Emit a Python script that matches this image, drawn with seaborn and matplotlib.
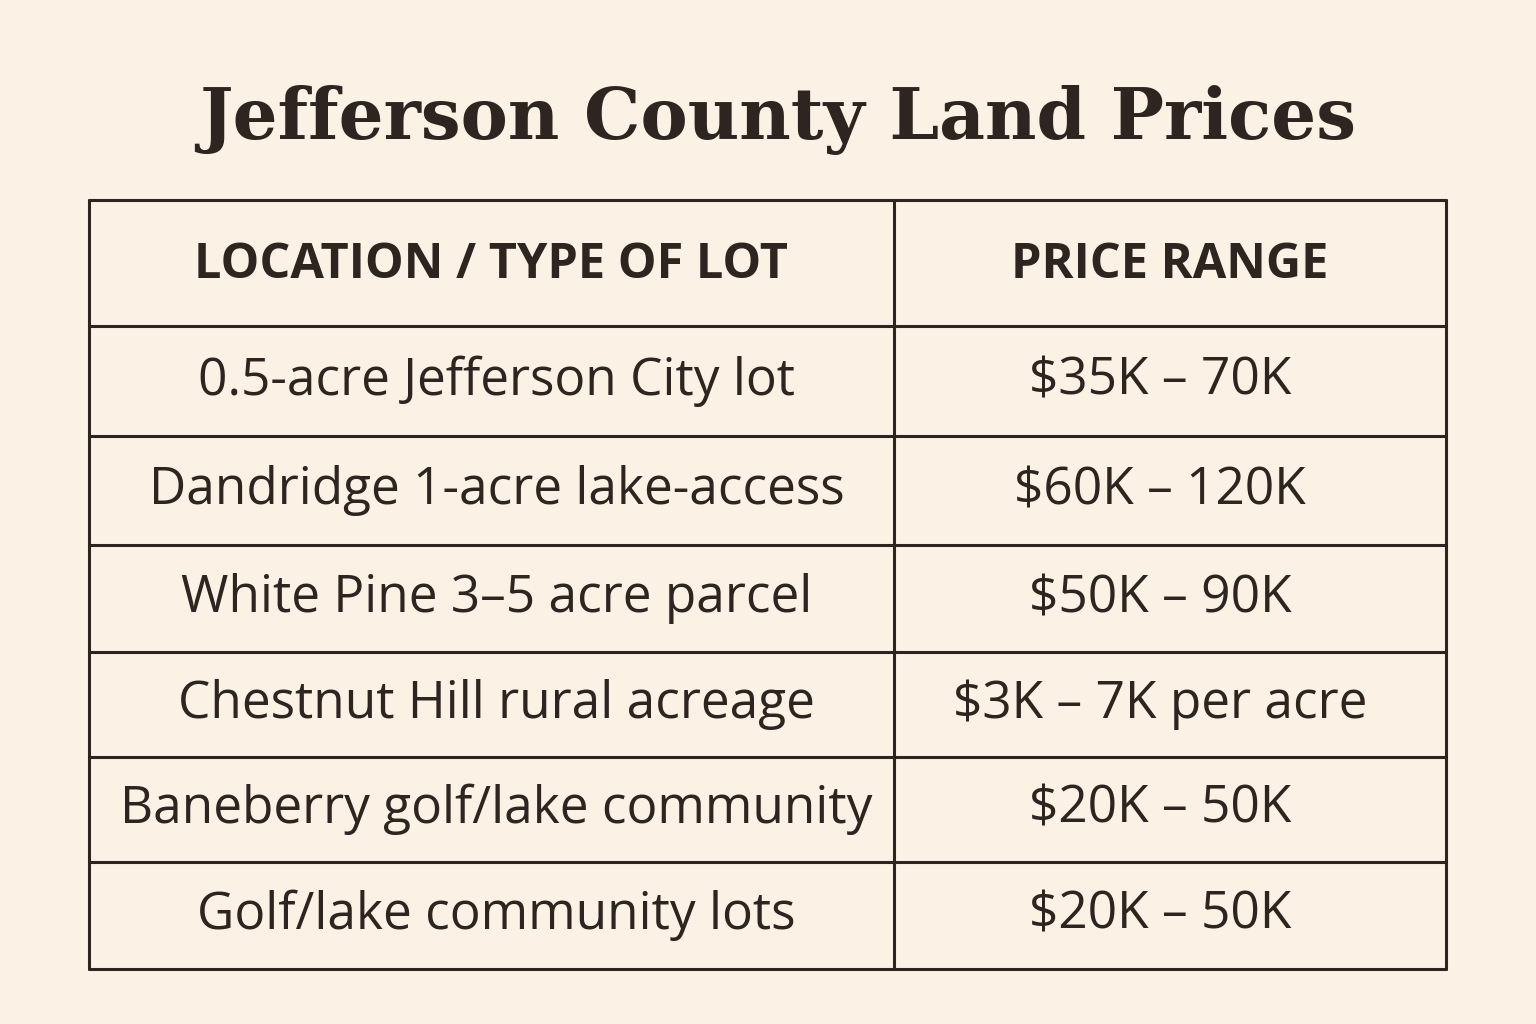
import matplotlib
matplotlib.use("Agg")
import matplotlib.pyplot as plt
import seaborn as sns

title = "Jefferson County Land Prices"
headers = ["LOCATION / TYPE OF LOT", "PRICE RANGE"]
locations = ["0.5-acre Jefferson City lot", "Dandridge 1-acre lake-access",
             "White Pine 3–5 acre parcel", "Chestnut Hill rural acreage",
             "Baneberry golf/lake community", "Golf/lake community lots"]
prices = ["$35K – 70K", "$60K – 120K", "$50K – 90K", "$3K – 7K per acre",
          "$20K – 50K", "$20K – 50K"]

bg = "#FBF1E4"
ink = "#2E2420"
sns.set_theme(style="white", rc={"figure.facecolor": bg, "axes.facecolor": bg})

fig = plt.figure(figsize=(15.36, 10.24), dpi=100)
ax = fig.add_axes([0, 0, 1, 1])
ax.set_xlim(0, 1536); ax.set_ylim(1024, 0); ax.axis("off")

ax.text(778, 120, title, ha="center", va="center", fontsize=51,
        fontweight="bold", family="DejaVu Serif", color=ink)

ys = [200, 326, 436, 545, 652, 757, 862, 969]
L, M, R = 89, 894, 1446
for y in ys:
    ax.plot([L, R], [y, y], color=ink, lw=2.2)
for x in (L, M, R):
    ax.plot([x, x], [ys[0], ys[-1]], color=ink, lw=2.2)

lc, rc = (L + M) / 2, (M + R) / 2
ax.text(lc, 266, headers[0], ha="center", va="center", fontsize=35,
        fontweight="bold", family="Open Sans", color=ink)
ax.text(rc, 266, headers[1], ha="center", va="center", fontsize=35,
        fontweight="bold", family="Open Sans", color=ink)
for i, (loc, pr) in enumerate(zip(locations, prices)):
    yc = (ys[i + 1] + ys[i + 2]) / 2
    ax.text(lc + 5, yc, loc, ha="center", va="center", fontsize=37,
            family="Open Sans", fontweight="medium", color=ink)
    ax.text(rc - 10, yc, pr, ha="center", va="center", fontsize=37,
            family="Open Sans", fontweight="medium", color=ink)

fig.savefig("out.png", dpi=100, facecolor=bg)
